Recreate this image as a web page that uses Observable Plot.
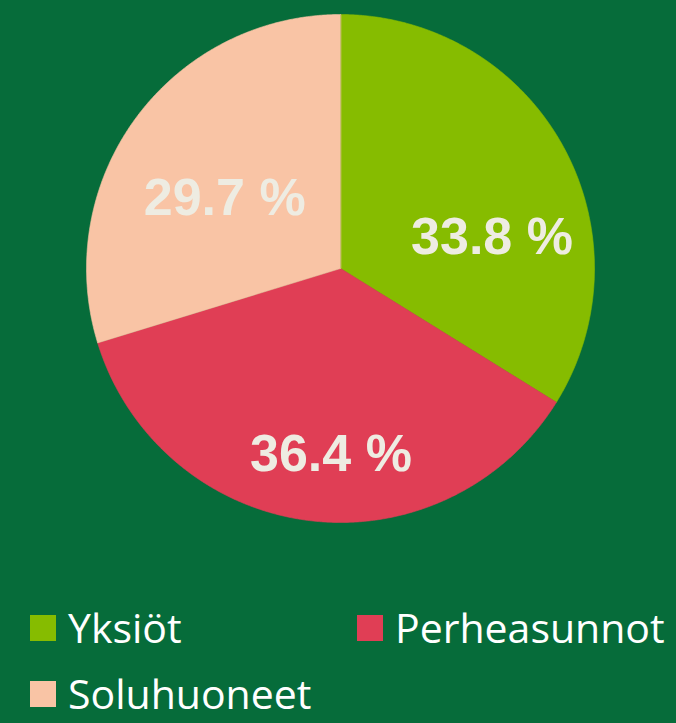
<!DOCTYPE html>
<html>
<head>
<meta charset="utf-8">
<script src="https://cdn.jsdelivr.net/npm/d3@7"></script>
<script src="https://cdn.jsdelivr.net/npm/@observablehq/plot@0.6"></script>
<style>
  html, body { margin: 0; padding: 0; background: #066c3a; }
  #wrap { position: relative; width: 676px; height: 723px; background: #066c3a; overflow: hidden; }
  #chart svg { display: block; }
  .lg { position: absolute; display: flex; align-items: center; font-family: "Open Sans", sans-serif; font-size: 41px; color: #ffffff; white-space: nowrap; height: 41px; }
  .lg .sw { width: 26px; height: 26px; margin-right: 12px; flex: none; }
  .lg .tx { display: block; height: 41px; line-height: 41px; }
</style>
</head>
<body>
<div id="wrap">
  <div id="chart"></div>
  <div id="legend"></div>
</div>
<script>
// ---- data ----
const categories = ["Yksiöt", "Perheasunnot", "Soluhuoneet"];
const values = [33.8, 36.4, 29.7];
const labels = ["33.8 %", "36.4 %", "29.7 %"];
// ---- styles ----
const colors = ["#86bc00", "#e03e55", "#f9c4a5"];

const data = categories.map((c, i) => ({cat: c, value: values[i], label: labels[i]}));
const R = 254;
const arcs = d3.pie().sort(null).value(d => d.value)(data);

// slice outlines sampled along the arc
const pts = [];
for (const a of arcs) {
  const n = Math.max(2, Math.ceil((a.endAngle - a.startAngle) / (Math.PI / 720)));
  pts.push({cat: a.data.cat, x: 0, y: 0});
  for (let k = 0; k <= n; k++) {
    const t = a.startAngle + (a.endAngle - a.startAngle) * k / n;
    pts.push({cat: a.data.cat, x: R * Math.sin(t), y: -R * Math.cos(t)});
  }
}

// label placement: along bisector, with small layout nudges
const nudge = {"Yksiöt": [5, 50], "Perheasunnot": [12, 20], "Soluhuoneet": [19, 30]};
const lab = arcs.map(a => {
  const m = (a.startAngle + a.endAngle) / 2;
  const r = 0.66 * R;
  return {cat: a.data.cat, label: a.data.label,
          x: r * Math.sin(m) + nudge[a.data.cat][0],
          y: -r * Math.cos(m) + nudge[a.data.cat][1]};
});

const chart = Plot.plot({
  width: 676,
  height: 570,
  margin: 0,
  x: {domain: [-340, 336], range: [0, 676], axis: null},
  y: {domain: [-268, 302], range: [0, 570], axis: null},
  color: {domain: categories, range: colors},
  style: {background: "transparent"},
  marks: [
    Plot.line(pts, {x: "x", y: "y", z: "cat", fill: "cat", stroke: "cat", strokeWidth: 0.6, curve: "linear-closed"}),
    Plot.text(lab, {x: "x", y: "y", text: "label", fill: "#eeece2", fontSize: 52, fontWeight: "bold", fontFamily: "Liberation Sans, Arial, sans-serif"})
  ]
});
document.getElementById("chart").appendChild(chart);

// legend (HTML, below the plot)
const legendPos = [[30, 607], [357, 607], [30, 673]];
const legend = document.getElementById("legend");
categories.forEach((c, i) => {
  const item = document.createElement("div");
  item.className = "lg";
  item.style.left = legendPos[i][0] + "px";
  item.style.top = legendPos[i][1] + "px";
  const sw = document.createElement("span");
  sw.className = "sw";
  sw.style.background = colors[i];
  const tx = document.createElement("span");
  tx.className = "tx";
  tx.textContent = c;
  item.appendChild(sw);
  item.appendChild(tx);
  legend.appendChild(item);
});
</script>
</body>
</html>
